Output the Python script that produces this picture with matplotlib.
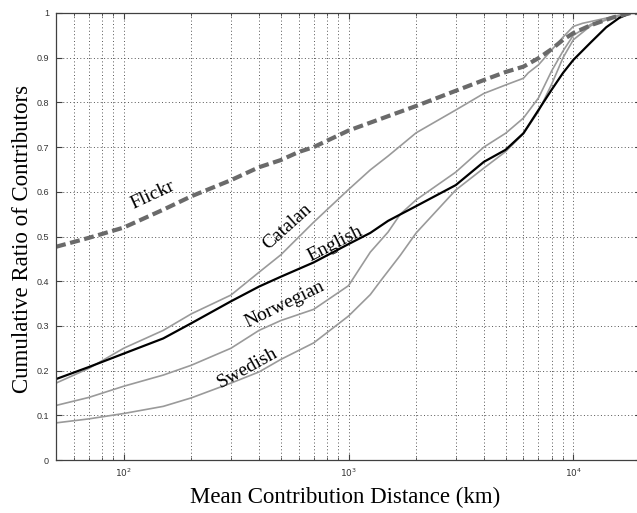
import numpy as np
import matplotlib
matplotlib.use("Agg")
import matplotlib.pyplot as plt
from matplotlib.ticker import FixedLocator, LogLocator, NullFormatter

# Values (distance in km, cumulative ratio)
flickr_x = [50, 70, 100, 150, 200, 300, 400, 500, 600, 700, 1000, 2000, 3000, 4000,
            5000, 6000, 7000, 8000, 9000, 10000, 12000, 15000, 18000, 20000]
flickr_y = [0.477, 0.497, 0.520, 0.560, 0.590, 0.626, 0.655, 0.671, 0.689, 0.700, 0.737,
            0.792, 0.826, 0.850, 0.868, 0.880, 0.899, 0.919, 0.940, 0.955, 0.973, 0.990,
            1.0, 1.0]

catalan_x = [50, 70, 100, 150, 200, 300, 400, 500, 700, 1000, 1250, 1500, 2000, 3000,
             4000, 5000, 6000, 6300, 7000, 8000, 9000, 10000, 11000, 13000, 16000, 18000,
             20000]
catalan_y = [0.172, 0.205, 0.250, 0.290, 0.327, 0.369, 0.420, 0.459, 0.532, 0.605, 0.649,
             0.680, 0.732, 0.783, 0.820, 0.839, 0.854, 0.866, 0.884, 0.917, 0.946, 0.970,
             0.977, 0.985, 0.995, 1.0, 1.0]

english_x = [50, 70, 100, 150, 200, 300, 400, 500, 700, 1000, 1250, 1500, 2000, 3000,
             4000, 5000, 6000, 7000, 8000, 9000, 10000, 12000, 14000, 16000, 18000, 20000]
english_y = [0.181, 0.208, 0.238, 0.272, 0.306, 0.355, 0.388, 0.410, 0.442, 0.483, 0.508,
             0.535, 0.568, 0.615, 0.667, 0.694, 0.731, 0.783, 0.828, 0.866, 0.895, 0.935,
             0.968, 0.989, 1.0, 1.0]

norwegian_x = [50, 70, 100, 150, 200, 300, 400, 500, 700, 1000, 1250, 1500, 1700, 2000,
               3000, 4000, 5000, 6000, 7000, 8000, 9000, 10000, 12000, 15000, 18000, 20000]
norwegian_y = [0.122, 0.140, 0.165, 0.190, 0.212, 0.250, 0.290, 0.312, 0.337, 0.390, 0.465,
               0.510, 0.550, 0.582, 0.644, 0.700, 0.731, 0.765, 0.810, 0.870, 0.915, 0.950,
               0.975, 0.990, 1.0, 1.0]

swedish_x = [50, 70, 100, 150, 200, 300, 400, 500, 700, 1000, 1250, 1400, 1700, 2000,
             3000, 4000, 5000, 6000, 7000, 8000, 9000, 10000, 12000, 15000, 18000, 20000]
swedish_y = [0.083, 0.092, 0.104, 0.120, 0.139, 0.172, 0.197, 0.225, 0.262, 0.322, 0.370,
             0.403, 0.458, 0.508, 0.604, 0.653, 0.690, 0.730, 0.780, 0.840, 0.900, 0.940,
             0.972, 0.990, 1.0, 1.0]

y_ticks = [0, 0.1, 0.2, 0.3, 0.4, 0.5, 0.6, 0.7, 0.8, 0.9, 1]
y_tick_labels = ["0", "0.1", "0.2", "0.3", "0.4", "0.5", "0.6", "0.7", "0.8", "0.9", "1"]
x_ticks = [100, 1000, 10000]
x_tick_labels = ["$10^2$", "$10^3$", "$10^4$"]

# curve name, position of the name (km, ratio), rotation
labels = [
    ("Flickr", 134, 0.592, 25),
    ("Catalan", 535, 0.522, 42),
    ("English", 870, 0.483, 27),
    ("Norwegian", 520, 0.348, 26),
    ("Swedish", 354, 0.206, 29),
]

fig = plt.figure(figsize=(6.37, 5.13), dpi=100)
ax = fig.add_axes([56 / 637, 53 / 513, 585 / 637, 447 / 513])

gray = "#9a9a9a"
ax.plot(catalan_x, catalan_y, color=gray, lw=1.2)
ax.plot(norwegian_x, norwegian_y, color=gray, lw=1.2)
ax.plot(swedish_x, swedish_y, color=gray, lw=1.2)
ax.plot(english_x, english_y, color="black", lw=1.6)
ax.plot(flickr_x, flickr_y, color="#6a6a6a", lw=3.0, linestyle=(0, (2.4, 1.1)))

ax.set_xscale("log")
ax.set_xlim(50, 20000)
ax.set_ylim(0, 1)

ax.yaxis.set_major_locator(FixedLocator(y_ticks))
ax.set_yticklabels(y_tick_labels)
ax.xaxis.set_major_locator(FixedLocator(x_ticks))
ax.set_xticklabels(x_tick_labels)
ax.xaxis.set_minor_locator(LogLocator(base=10, subs=np.arange(2, 10), numticks=20))
ax.xaxis.set_minor_formatter(NullFormatter())

ax.tick_params(which="both", direction="in", top=True, right=True, colors="#404040",
               labelsize=6.5, labelcolor="#333333")
ax.tick_params(which="major", length=4, width=0.8)
ax.tick_params(which="minor", length=2.5, width=0.6)
ax.tick_params(axis="y", pad=5)
ax.tick_params(axis="x", pad=5)
for lab in ax.get_xticklabels() + ax.get_yticklabels():
    lab.set_family("Liberation Sans")

ax.grid(True, which="major", axis="both", linestyle=(0, (1, 2.5)), color="#555555", lw=0.7)
ax.grid(True, which="minor", axis="x", linestyle=(0, (1, 2.5)), color="#555555", lw=0.7)

for side in ["left", "right", "top", "bottom"]:
    ax.spines[side].set_color("#404040")
    ax.spines[side].set_linewidth(0.9)

for name, lx, ly, rot in labels:
    ax.text(lx, ly, name, rotation=rot, ha="center", va="center",
            family="Liberation Serif", fontsize=14, rotation_mode="anchor")

fig.text(345 / 637, 1 - 497 / 513, "Mean Contribution Distance (km)", ha="center", va="center",
         family="Liberation Serif", fontsize=16.5)
fig.text(23 / 637, 1 - 239 / 513, "Cumulative Ratio of Contributors", ha="center", va="center",
         rotation=90, family="Liberation Serif", fontsize=16.5)

fig.savefig("out.png", dpi=100)
